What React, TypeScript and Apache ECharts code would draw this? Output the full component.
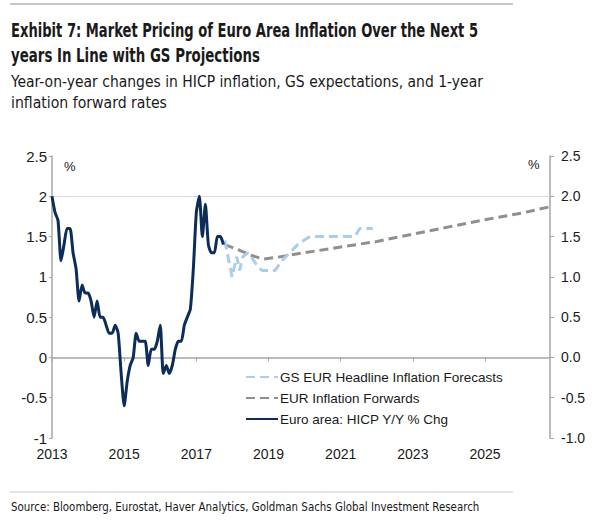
import React, { useEffect, useRef } from "react";
import * as echarts from "echarts";

// ---- Data ----
const hicpStartYear = 2013; // monthly from Jan 2013
const hicpValues = [
  // 2013
  2.0, 1.8, 1.7, 1.2, 1.4, 1.6, 1.6, 1.3, 1.1, 0.7, 0.9, 0.8,
  // 2014
  0.8, 0.7, 0.5, 0.7, 0.5, 0.5, 0.4, 0.3, 0.3, 0.4, 0.3, -0.2,
  // 2015
  -0.6, -0.3, -0.1, 0.0, 0.3, 0.2, 0.2, 0.2, -0.1, 0.1, 0.1, 0.2,
  // 2016
  0.4, -0.2, -0.1, -0.2, -0.1, 0.1, 0.2, 0.2, 0.4, 0.5, 0.6, 1.1,
  // 2017
  1.8, 2.0, 1.5, 1.9, 1.4, 1.3, 1.3, 1.5, 1.5, 1.4,
];

const gsYears = [
  2017.79, 2017.99, 2018.12, 2018.2, 2018.29, 2018.43, 2018.52, 2018.71, 2018.82,
  2019.18, 2019.37, 2019.59, 2019.81, 2019.97, 2020.15, 2021.39, 2021.53, 2021.89,
];
const gsValues = [
  1.45, 1.0, 1.25, 1.08, 1.25, 1.3, 1.25, 1.12, 1.08,
  1.08, 1.2, 1.3, 1.4, 1.45, 1.5, 1.5, 1.6, 1.6,
];

const fwdYears = [2017.79, 2018.2, 2018.5, 2018.85, 2019.2, 2019.6, 2020, 2021, 2022, 2023, 2024, 2025, 2026, 2026.8];
const fwdValues = [1.4, 1.33, 1.27, 1.22, 1.24, 1.27, 1.3, 1.37, 1.44, 1.53, 1.62, 1.71, 1.79, 1.87];

const xMin = 2013;
const xMax = 2026.8;
const xTickYears = [2013, 2015, 2017, 2019, 2021, 2023, 2025];

const seriesNames = [
  "GS EUR Headline Inflation Forecasts",
  "EUR Inflation Forwards",
  "Euro area: HICP Y/Y % Chg",
];

const titleLines = [
  "Exhibit 7: Market Pricing of Euro Area Inflation Over the Next 5",
  "years In Line with GS Projections",
];
const subtitleLines = [
  "Year-on-year changes in HICP inflation, GS expectations, and 1-year",
  "inflation forward rates",
];
const sourceText =
  "Source: Bloomberg, Eurostat, Haver Analytics, Goldman Sachs Global Investment Research";

const NARROW = "'DejaVu Sans Condensed', 'Liberation Sans Narrow', sans-serif";
const SANS = "'Liberation Sans', Arial, sans-serif";

function fitScale(text: string, font: string, target: number): number {
  const c = document.createElement("canvas");
  const ctx = c.getContext("2d");
  if (!ctx) return 1;
  ctx.font = font;
  const w = ctx.measureText(text).width;
  return w > 0 ? target / w : 1;
}

export default function App() {
  const ref = useRef<HTMLDivElement>(null);

  useEffect(() => {
    if (!ref.current) return;
    const chart = echarts.init(ref.current, null, { renderer: "svg" });

    const hicpData = hicpValues.map((v, i) => [hicpStartYear + i / 12, v]);
    const gsData = gsYears.map((y, i) => [y, gsValues[i]]);
    const fwdData = fwdYears.map((y, i) => [y, fwdValues[i]]);

    const axisGrey = "#a6a6a6";
    const labelColor = "#1a1a1a";

    const titleFont = `bold 19px ${NARROW}`;
    const subFont = `16.5px ${NARROW}`;
    const srcFont = `13px ${NARROW}`;

    const textEl = (text: string, font: string, x: number, y: number, target: number) => ({
      type: "text",
      x,
      y,
      scaleX: fitScale(text, font, target),
      style: { text, font, fill: "#1a1a1a", verticalAlign: "middle" },
    });

    chart.setOption({
      animation: false,
      backgroundColor: "#ffffff",
      grid: { left: 52, right: 50, top: 156, bottom: 87, containLabel: false },
      legend: {
        data: seriesNames,
        orient: "vertical",
        left: 240,
        top: 365,
        itemWidth: 32,
        itemHeight: 14,
        itemGap: 7,
        itemStyle: { opacity: 0 },
        textStyle: { fontFamily: SANS, fontSize: 13.5, color: labelColor, padding: [0, 0, 0, -3] },
      },
      xAxis: {
        type: "value",
        min: xMin,
        max: xMax,
        interval: 2,
        axisLine: { show: true, lineStyle: { color: axisGrey, width: 1.5 } },
        axisTick: { show: true, length: 4, lineStyle: { color: axisGrey } },
        splitLine: { show: false },
        axisLabel: {
          showMaxLabel: false,
          margin: 9,
          fontFamily: SANS,
          fontSize: 14,
          color: labelColor,
          formatter: (v: number) => (xTickYears.includes(Math.round(v * 100) / 100) ? String(v) : ""),
        },
      },
      yAxis: [
        {
          type: "value",
          min: -1,
          max: 2.5,
          interval: 0.5,
          position: "left",
          axisLine: { show: true, lineStyle: { color: axisGrey, width: 1.5 } },
          axisTick: { show: true, length: 3, lineStyle: { color: axisGrey } },
          splitLine: { show: false },
          axisLabel: { margin: 5, fontFamily: SANS, fontSize: 15, color: labelColor },
        },
        {
          type: "value",
          min: -1,
          max: 2.5,
          interval: 0.5,
          position: "right",
          axisLine: { show: true, lineStyle: { color: axisGrey, width: 1.5 } },
          axisTick: { show: true, length: 4, lineStyle: { color: axisGrey } },
          splitLine: { show: false },
          axisLabel: {
            margin: 11,
            fontFamily: SANS,
            fontSize: 14,
            color: labelColor,
            formatter: (v: number) => v.toFixed(1),
          },
        },
      ],
      series: [
        {
          name: seriesNames[1],
          type: "line",
          data: fwdData,
          symbol: "none",
          lineStyle: { color: "#8f8f8f", width: 3, type: [9, 5] },
          itemStyle: { color: "#8f8f8f" },
          z: 2,
        },
        {
          name: seriesNames[0],
          type: "line",
          data: gsData,
          symbol: "none",
          lineStyle: { color: "#a9cdec", width: 3, type: [9, 5] },
          itemStyle: { color: "#a9cdec" },
          z: 3,
        },
        {
          name: seriesNames[2],
          type: "line",
          data: hicpData,
          symbol: "none",
          smooth: 0.2,
          lineStyle: { color: "#0c2d5a", width: 3 },
          itemStyle: { color: "#0c2d5a" },
          z: 4,
          markLine: {
            silent: true,
            symbol: "none",
            label: { show: false },
            lineStyle: { color: "#d9d9d9", width: 1, type: "solid" },
            data: [{ yAxis: 2 }],
            z: 1,
          },
        },
      ],
      graphic: [
        { type: "line", shape: { x1: 10, y1: 4, x2: 513, y2: 4 }, style: { stroke: "#b5b5b5", lineWidth: 1.5 } },
        textEl(titleLines[0], titleFont, 11, 30, 467),
        textEl(titleLines[1], titleFont, 11, 55, 249),
        textEl(subtitleLines[0], subFont, 11, 81, 472),
        textEl(subtitleLines[1], subFont, 11, 102, 156),
        {
          type: "text", x: 64, y: 166,
          style: { text: "%", font: `13px ${SANS}`, fill: "#1a1a1a", verticalAlign: "middle" },
        },
        {
          type: "text", x: 528, y: 164,
          style: { text: "%", font: `13px ${SANS}`, fill: "#1a1a1a", verticalAlign: "middle" },
        },
        { type: "line", shape: { x1: 10, y1: 492, x2: 513, y2: 492 }, style: { stroke: "#c8c8c8", lineWidth: 1 } },
        textEl(sourceText, srcFont, 11, 507, 469),
      ],
    });

    return () => chart.dispose();
  }, []);

  return (
    <div
      ref={ref}
      style={{ position: "fixed", left: 0, top: 0, width: 600, height: 525, background: "#fff" }}
    />
  );
}
